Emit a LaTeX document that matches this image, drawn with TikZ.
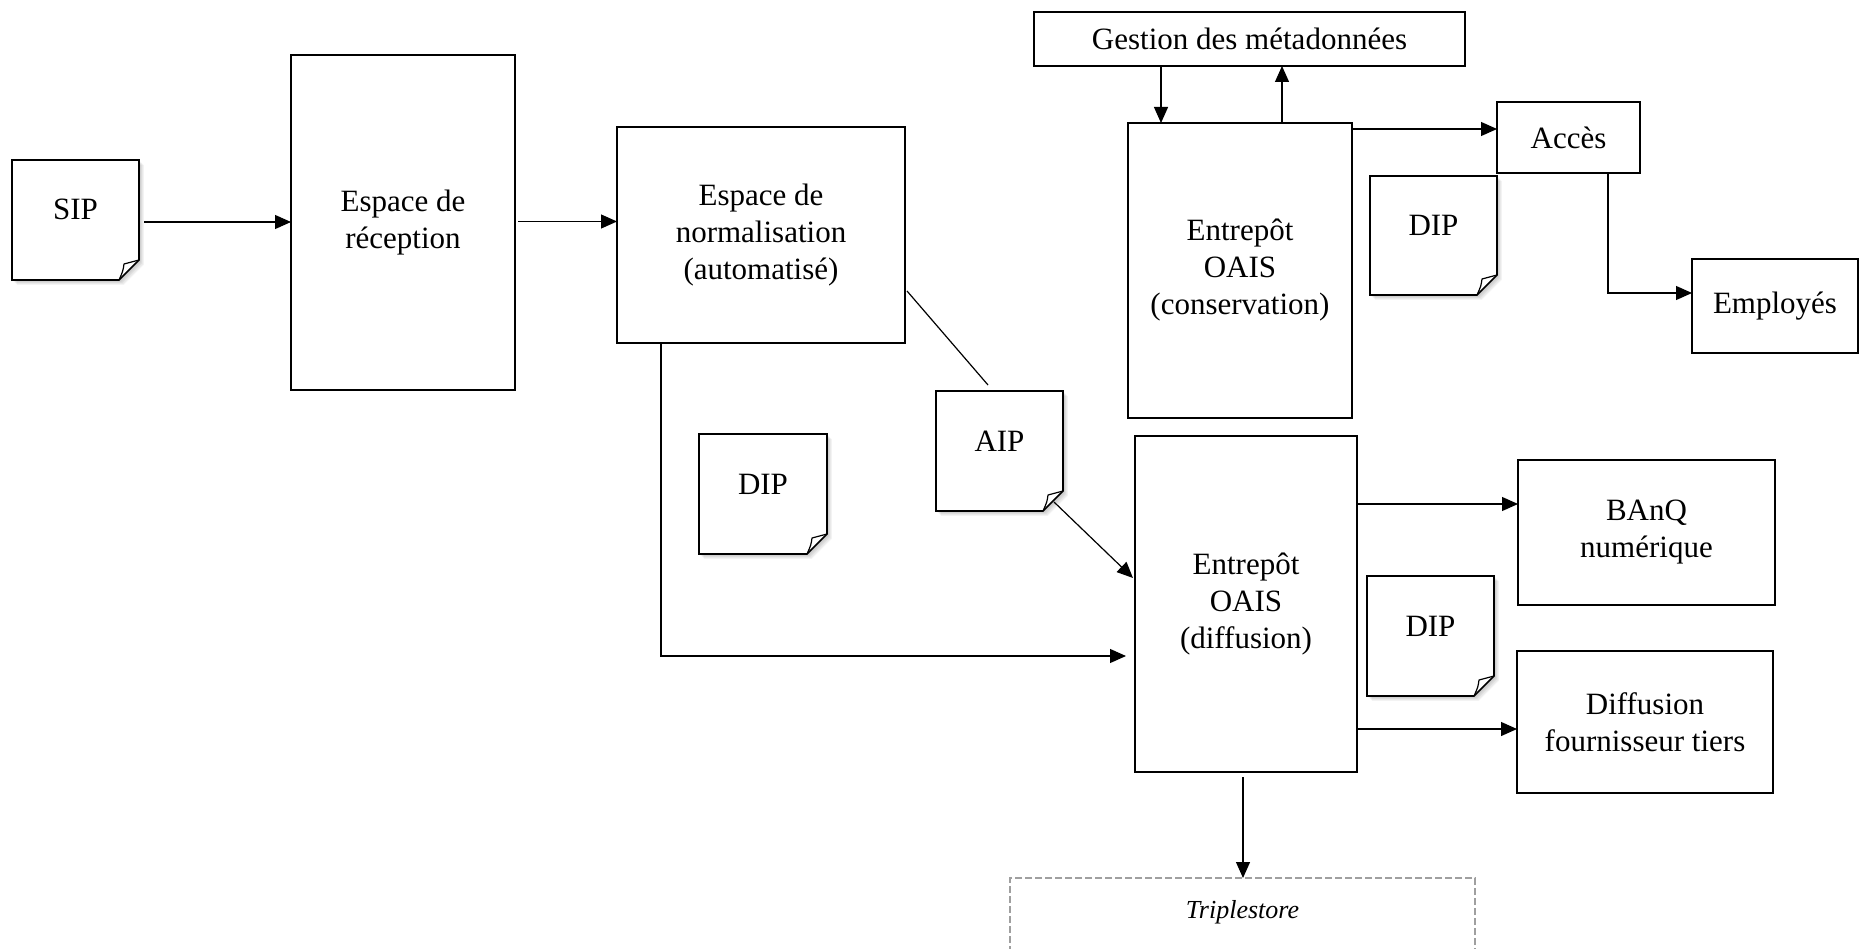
\documentclass[tikz,border=0pt]{standalone}
\usepackage{fontspec}
\setmainfont{Liberation Serif}
\usetikzlibrary{arrows.meta,calc,backgrounds}

\tikzset{
  lbl/.style={font=\fontsize{31}{37}\selectfont, align=center, inner sep=0pt, outer sep=0pt},
  stage/.style={lbl, draw, line width=1.6pt, fill=white, anchor=north west},
  page/.style={lbl, anchor=north west, text height=22pt, text depth=22pt,
               minimum width=127pt, minimum height=120pt},
  pageline/.style={line width=1.6pt, line join=miter},
  conn/.style={line width=1.2pt},
  flow/.style={conn, -{Triangle[length=16pt,width=14pt]}},
}

% folded sheet drawn around a named node: soft shadow, white sheet, outline, curled corner
\newcommand\sheet[1]{%
  \begin{scope}[on background layer]
    \foreach \k in {1,...,6}{%
      \fill[black,opacity=0.045]
        ($(#1.north west)+(\k*0.8,\k*0.8)$) -- ($(#1.north east)+(\k*0.8,\k*0.8)$)
        -- ($(#1.south east)+(\k*0.8,\k*0.8-20)$) -- ($(#1.south east)+(\k*0.8-20,\k*0.8)$)
        -- ($(#1.south west)+(\k*0.8,\k*0.8)$) -- cycle;}
    \fill[white] (#1.north west) -- (#1.north east) -- ($(#1.south east)+(0,-20)$)
      -- ($(#1.south east)+(-20,0)$) -- (#1.south west) -- cycle;
  \end{scope}
  \draw[pageline] (#1.north west) -- (#1.north east) -- ($(#1.south east)+(0,-20)$)
    -- ($(#1.south east)+(-20,0)$) -- (#1.south west) -- cycle;
  \draw[conn, line join=round] ($(#1.south east)+(0,-20)$) -- ($(#1.south east)+(-15,-16)$)
    .. controls ($(#1.south east)+(-16,-9)$) .. ($(#1.south east)+(-20,0)$);
}

\begin{document}
\begin{tikzpicture}[x=1pt,y=-1pt]
\useasboundingbox (0,0) rectangle (1860,949);
\clip (0,0) rectangle (1860,949);

% processing stages
\node[page] (sip) at (12,160) {SIP};
\node[stage, minimum width=224pt, minimum height=335pt] (rec) at (291,55) {Espace de\\réception};
\node[stage, minimum width=288pt, minimum height=216pt] (norm) at (617,127) {Espace de\\normalisation\\(automatisé)};
\node[stage, minimum width=431pt, minimum height=54pt] (meta) at (1034,12) {Gestion des métadonnées};
\node[stage, minimum width=224pt, minimum height=295pt] (cons) at (1128,123) {Entrepôt\\OAIS\\(conservation)};
\node[stage, minimum width=143pt, minimum height=71pt] (acces) at (1497,102) {Accès};
\node[page, minimum height=119pt] (dipA) at (1370,176) {DIP};
\node[stage, minimum width=166pt, minimum height=94pt] (emp) at (1692,259) {Employés};
\node[page] (aip) at (936,391) {AIP};
\node[page, minimum width=128pt] (dipB) at (699,434) {DIP};
\node[stage, minimum width=222pt, minimum height=336pt] (diff) at (1135,436) {Entrepôt\\OAIS\\(diffusion)};
\node[stage, minimum width=257pt, minimum height=145pt] (banq) at (1518,460) {BAnQ\\numérique};
\node[page] (dipC) at (1367,576) {DIP};
\node[stage, minimum width=256pt, minimum height=142pt] (tiers) at (1517,651) {Diffusion\\fournisseur tiers};
\node[lbl, anchor=north west, draw=gray!75, line width=1.5pt, dash pattern=on 7pt off 3pt,
      minimum width=465pt, text height=40pt, text depth=82pt,
      font=\fontsize{26}{31}\selectfont\itshape] (triple) at (1010,878) {Triplestore};

% information packages
\sheet{sip}
\sheet{dipA}
\sheet{aip}
\sheet{dipB}
\sheet{dipC}

% flows
\draw[flow] ($(sip.east)+(5,2)$) coordinate (f1) -- (f1 -| rec.west);
\draw[flow] ($(rec.east)+(3,-1)$) coordinate (f2) -- (f2 -| norm.west);
\draw[flow] ($(cons.north west)+(33,0)$) coordinate (f3) (f3 |- meta.south) -- (f3);
\draw[flow] ($(cons.north west)+(154,0)$) coordinate (f4) -- (f4 |- meta.south);
\draw[flow] ($(cons.north east)+(0,6)$) coordinate (f5) -- (f5 -| acces.west);
\draw[flow] ($(acces.south west)+(111,0)$) |- ($(emp.north west)+(0,34)$);
\draw[conn] ($(norm.north east)+(2,164)$) -- ($(aip.north west)+(52,-6)$);
\draw[flow] ($(aip.south east)+(-9,-9)$) -- ($(diff.north west)+(-2,142)$);
\draw[flow, shorten >=9pt] ($(norm.south west)+(44,0)$) |- ($(diff.north west)+(0,220)$);
\draw[flow] ($(diff.north east)+(0,68)$) coordinate (f6) -- (f6 -| banq.west);
\draw[flow] ($(diff.north east)+(0,293)$) coordinate (f7) -- (f7 -| tiers.west);
\draw[flow] ($(diff.south west)+(108,5)$) coordinate (f8) -- (f8 |- triple.north);
\end{tikzpicture}
\end{document}
